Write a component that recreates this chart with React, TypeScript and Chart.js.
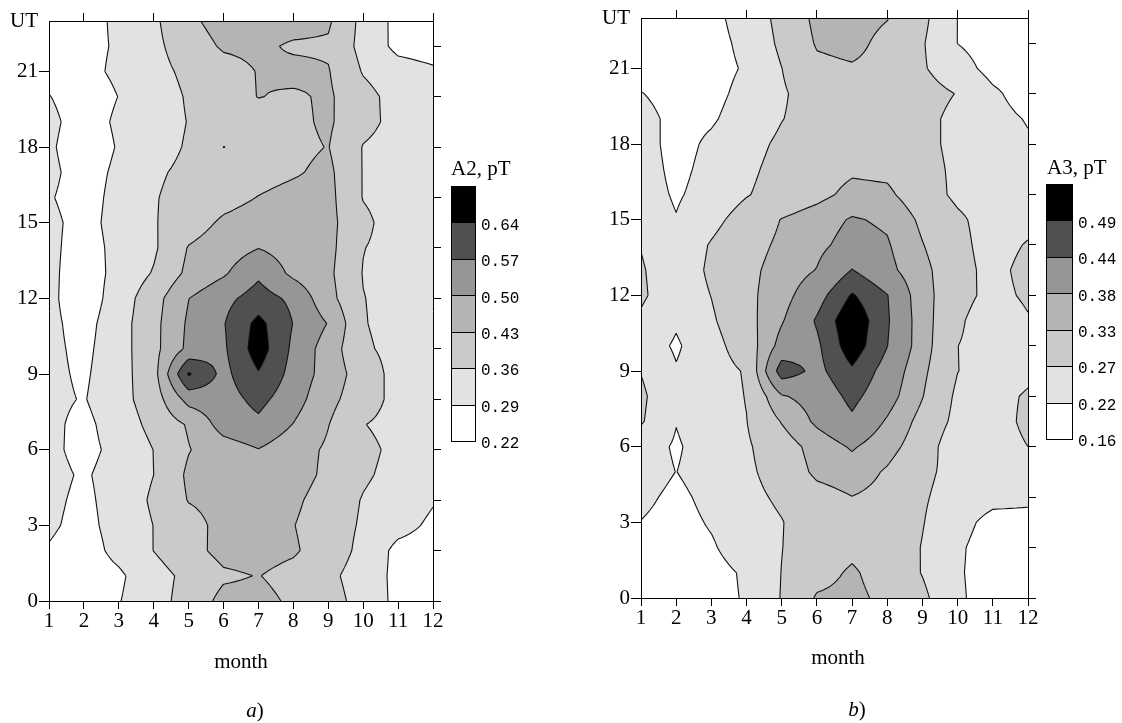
import React, { useEffect, useRef } from "react";
import { Chart, registerables } from "chart.js";

Chart.register(...registerables);

// ---------- data ----------
const months = [1, 2, 3, 4, 5, 6, 7, 8, 9, 10, 11, 12];
const utHours = [0, 1, 2, 3, 4, 5, 6, 7, 8, 9, 10, 11, 12, 13, 14, 15, 16, 17, 18, 19, 20, 21, 22, 23];
const utTicksLabelled = [0, 3, 6, 9, 12, 15, 18, 21];
const utTicksRight = [0, 2, 4, 6, 8, 10, 12, 14, 16, 18, 20, 22];
const monthTicksTop = [2, 4, 6, 8, 10, 12];

const a2Levels = [0.29, 0.36, 0.43, 0.5, 0.57, 0.64];
const a2LegendLabels = ["0.64", "0.57", "0.50", "0.43", "0.36", "0.29", "0.22"];
const a3Levels = [0.22, 0.27, 0.33, 0.38, 0.44, 0.49];
const a3LegendLabels = ["0.49", "0.44", "0.38", "0.33", "0.27", "0.22", "0.16"];
const bandColors = ["#ffffff", "#e2e2e2", "#cacaca", "#b4b4b4", "#969696", "#505050", "#000000"];

// A2 amplitude (pT), one row per UT hour 0..23, columns = months 1..12
const a2ByHour: number[][] = [
  [0.25, 0.25, 0.287, 0.334, 0.386, 0.45, 0.45, 0.419, 0.383, 0.339, 0.27, 0.26],
  [0.25, 0.255, 0.279, 0.333, 0.378, 0.42, 0.432, 0.407, 0.374, 0.333, 0.27, 0.26],
  [0.285, 0.26, 0.31, 0.361, 0.407, 0.45, 0.455, 0.439, 0.393, 0.344, 0.27, 0.26],
  [0.3, 0.27, 0.316, 0.361, 0.406, 0.45, 0.455, 0.432, 0.392, 0.352, 0.314, 0.277],
  [0.305, 0.275, 0.319, 0.37, 0.433, 0.45, 0.46, 0.443, 0.399, 0.356, 0.33, 0.295],
  [0.31, 0.282, 0.318, 0.36, 0.442, 0.46, 0.47, 0.46, 0.415, 0.369, 0.34, 0.32],
  [0.305, 0.27, 0.31, 0.361, 0.427, 0.466, 0.498, 0.459, 0.42, 0.376, 0.345, 0.33],
  [0.305, 0.272, 0.324, 0.379, 0.437, 0.53, 0.555, 0.498, 0.432, 0.362, 0.34, 0.33],
  [0.305, 0.286, 0.336, 0.394, 0.525, 0.54, 0.59, 0.53, 0.45, 0.39, 0.34, 0.33],
  [0.305, 0.28, 0.333, 0.403, 0.648, 0.55, 0.635, 0.546, 0.469, 0.396, 0.336, 0.33],
  [0.305, 0.274, 0.331, 0.409, 0.517, 0.559, 0.675, 0.555, 0.467, 0.37, 0.34, 0.33],
  [0.305, 0.266, 0.331, 0.409, 0.511, 0.566, 0.66, 0.568, 0.497, 0.364, 0.335, 0.32],
  [0.305, 0.251, 0.323, 0.402, 0.499, 0.55, 0.6, 0.555, 0.453, 0.362, 0.335, 0.32],
  [0.305, 0.255, 0.311, 0.365, 0.446, 0.491, 0.557, 0.484, 0.444, 0.357, 0.335, 0.32],
  [0.305, 0.262, 0.309, 0.35, 0.434, 0.465, 0.499, 0.47, 0.45, 0.362, 0.335, 0.32],
  [0.305, 0.268, 0.313, 0.355, 0.398, 0.441, 0.46, 0.46, 0.45, 0.376, 0.325, 0.32],
  [0.295, 0.264, 0.31, 0.356, 0.382, 0.407, 0.432, 0.45, 0.45, 0.357, 0.33, 0.32],
  [0.305, 0.262, 0.303, 0.351, 0.373, 0.39, 0.407, 0.423, 0.445, 0.357, 0.335, 0.32],
  [0.3, 0.252, 0.295, 0.336, 0.366, 0.431, 0.41, 0.415, 0.432, 0.357, 0.335, 0.32],
  [0.305, 0.262, 0.3, 0.332, 0.362, 0.38, 0.398, 0.416, 0.44, 0.38, 0.34, 0.32],
  [0.292, 0.26, 0.291, 0.329, 0.366, 0.398, 0.432, 0.42, 0.44, 0.382, 0.335, 0.32],
  [0.27, 0.275, 0.3, 0.34, 0.374, 0.402, 0.433, 0.45, 0.434, 0.355, 0.32, 0.3],
  [0.265, 0.275, 0.296, 0.345, 0.393, 0.439, 0.445, 0.42, 0.42, 0.338, 0.271, 0.26],
  [0.25, 0.27, 0.3, 0.348, 0.414, 0.46, 0.46, 0.46, 0.44, 0.339, 0.27, 0.26],
];

// A3 amplitude (pT), one row per UT hour 0..23, columns = months 1..12
const a3ByHour: number[][] = [
  [0.19, 0.195, 0.205, 0.224, 0.2725, 0.336, 0.345, 0.315, 0.28, 0.23, 0.19, 0.19],
  [0.195, 0.198, 0.205, 0.226, 0.271, 0.308, 0.338, 0.302, 0.268, 0.226, 0.195, 0.19],
  [0.2, 0.205, 0.215, 0.244, 0.269, 0.3, 0.316, 0.3, 0.268, 0.228, 0.195, 0.19],
  [0.219, 0.205, 0.224, 0.246, 0.268, 0.3, 0.32, 0.305, 0.272, 0.238, 0.204, 0.205],
  [0.23, 0.21, 0.232, 0.255, 0.279, 0.31, 0.329, 0.315, 0.275, 0.25, 0.235, 0.23],
  [0.24, 0.2195, 0.24, 0.26, 0.293, 0.341, 0.355, 0.324, 0.28, 0.255, 0.24, 0.235],
  [0.24, 0.215, 0.241, 0.263, 0.304, 0.35, 0.386, 0.349, 0.3, 0.233, 0.25, 0.27],
  [0.275, 0.2215, 0.25, 0.269, 0.333, 0.39, 0.43, 0.374, 0.312, 0.254, 0.25, 0.28],
  [0.28, 0.225, 0.245, 0.272, 0.375, 0.402, 0.455, 0.403, 0.332, 0.259, 0.255, 0.275],
  [0.268, 0.2235, 0.248, 0.2745, 0.47, 0.425, 0.4825, 0.418, 0.341, 0.271, 0.245, 0.26],
  [0.245, 0.214, 0.251, 0.298, 0.4, 0.43, 0.52, 0.441, 0.353, 0.2705, 0.245, 0.255],
  [0.262, 0.226, 0.263, 0.31, 0.3755, 0.446, 0.53, 0.446, 0.352, 0.281, 0.23, 0.265],
  [0.278, 0.238, 0.271, 0.316, 0.36, 0.418, 0.495, 0.442, 0.348, 0.294, 0.25, 0.28],
  [0.275, 0.238, 0.279, 0.316, 0.35, 0.382, 0.442, 0.395, 0.344, 0.293, 0.25, 0.29],
  [0.268, 0.235, 0.274, 0.3085, 0.34, 0.367, 0.4, 0.385, 0.332, 0.288, 0.244, 0.275],
  [0.245, 0.222, 0.255, 0.293, 0.332, 0.356, 0.385, 0.372, 0.319, 0.28, 0.245, 0.25],
  [0.24, 0.215, 0.237, 0.267, 0.291, 0.314, 0.345, 0.34, 0.298, 0.258, 0.245, 0.24],
  [0.24, 0.209, 0.233, 0.26, 0.286, 0.305, 0.322, 0.318, 0.29, 0.259, 0.245, 0.235],
  [0.238, 0.205, 0.228, 0.253, 0.279, 0.3, 0.31, 0.31, 0.285, 0.256, 0.24, 0.225],
  [0.238, 0.205, 0.215, 0.24, 0.2686, 0.29, 0.305, 0.305, 0.285, 0.256, 0.235, 0.217],
  [0.222, 0.2, 0.208, 0.2325, 0.264, 0.295, 0.31, 0.305, 0.29, 0.268, 0.228, 0.2],
  [0.2, 0.2, 0.205, 0.2245, 0.2695, 0.318, 0.325, 0.315, 0.275, 0.239, 0.205, 0.2],
  [0.2, 0.2, 0.205, 0.231, 0.28, 0.335, 0.345, 0.3145, 0.274, 0.2195, 0.2, 0.2],
  [0.2, 0.2, 0.208, 0.2385, 0.285, 0.3435, 0.35, 0.332, 0.282, 0.2195, 0.2, 0.2],
];

// ---------- layout / style ----------
const CANVAS_W = 561;
const CANVAS_H = 723;
const SERIF = "'Liberation Serif', 'Times New Roman', serif";
const MONO = "'Liberation Mono', 'Courier New', monospace";

type Panel = {
  grid: number[][];
  levels: number[];
  legendLabels: string[];
  title: string;
  caption: string;
  canvasLeft: number;
  area: { left: number; top: number; right: number; bottom: number };
  bar: { x: number; y: number; w: number; h: number };
  labelX: number;
  titleX: number;
  titleY: number;
  monthPos: { x: number; y: number };
  captionPos: { x: number; y: number };
};

const panelA: Panel = {
  grid: a2ByHour,
  levels: a2Levels,
  legendLabels: a2LegendLabels,
  title: "A2, pT",
  caption: "a",
  canvasLeft: 0,
  area: { left: 49, top: 21, right: 433, bottom: 601 },
  bar: { x: 451, y: 186, w: 24, h: 255 },
  labelX: 481,
  titleX: 451,
  titleY: 175,
  monthPos: { x: 241, y: 662 },
  captionPos: { x: 255, y: 711 },
};

const panelB: Panel = {
  grid: a3ByHour,
  levels: a3Levels,
  legendLabels: a3LegendLabels,
  title: "A3, pT",
  caption: "b",
  canvasLeft: 561,
  area: { left: 80, top: 18, right: 467, bottom: 598 },
  bar: { x: 485, y: 184, w: 26, h: 255 },
  labelX: 517,
  titleX: 486,
  titleY: 174,
  monthPos: { x: 277, y: 658 },
  captionPos: { x: 296, y: 710 },
};

function hexToRgb(h: string): [number, number, number] {
  const n = parseInt(h.slice(1), 16);
  return [(n >> 16) & 255, (n >> 8) & 255, n & 255];
}

function sampleGrid(grid: number[][], m: number, u: number): number {
  const nx = grid[0].length;
  const ny = grid.length;
  const fx = m - months[0];
  const fy = u - utHours[0];
  let i = Math.floor(fx);
  let j = Math.floor(fy);
  if (i < 0) i = 0;
  if (i > nx - 2) i = nx - 2;
  if (j < 0) j = 0;
  if (j > ny - 2) j = ny - 2;
  const tx = Math.min(1, Math.max(0, fx - i));
  const ty = Math.min(1, Math.max(0, fy - j));
  const v00 = grid[j][i];
  const v10 = grid[j][i + 1];
  const v01 = grid[j + 1][i];
  const v11 = grid[j + 1][i + 1];
  return (1 - tx) * (1 - ty) * v00 + tx * (1 - ty) * v10 + (1 - tx) * ty * v01 + tx * ty * v11;
}

function makeContourPlugin(panel: Panel) {
  return {
    id: "contourField",
    beforeDraw(chart: any) {
      const ctx: CanvasRenderingContext2D = chart.ctx;
      const area = chart.chartArea;
      const xs = chart.scales.x;
      const ys = chart.scales.y;
      const { grid, levels } = panel;
      const L0 = Math.round(area.left);
      const T0 = Math.round(area.top);
      const R0 = Math.round(area.right);
      const B0 = Math.round(area.bottom);
      const w = R0 - L0;
      const h = B0 - T0;
      const rgb = bandColors.map(hexToRgb);
      const img = ctx.createImageData(w, h);
      const mcol = new Float64Array(w);
      for (let px = 0; px < w; px++) mcol[px] = xs.getValueForPixel(L0 + px + 0.5);
      for (let py = 0; py < h; py++) {
        const u = ys.getValueForPixel(T0 + py + 0.5);
        for (let px = 0; px < w; px++) {
          const v = sampleGrid(grid, mcol[px], u);
          let band = 0;
          for (let k = 0; k < levels.length; k++) if (v >= levels[k]) band = k + 1;
          const c = rgb[band];
          const o = (py * w + px) * 4;
          img.data[o] = c[0];
          img.data[o + 1] = c[1];
          img.data[o + 2] = c[2];
          img.data[o + 3] = 255;
        }
      }
      ctx.putImageData(img, L0, T0);

      // contour lines: marching squares on a refined bilinear grid
      const SUB = 6;
      const nx = grid[0].length;
      const ny = grid.length;
      const nxs = (nx - 1) * SUB + 1;
      const nys = (ny - 1) * SUB + 1;
      const PX = new Float64Array(nxs);
      const PY = new Float64Array(nys);
      const V = new Float64Array(nxs * nys);
      for (let i = 0; i < nxs; i++) PX[i] = xs.getPixelForValue(months[0] + i / SUB);
      for (let j = 0; j < nys; j++) PY[j] = ys.getPixelForValue(utHours[0] + j / SUB);
      for (let j = 0; j < nys; j++)
        for (let i = 0; i < nxs; i++)
          V[j * nxs + i] = sampleGrid(grid, months[0] + i / SUB, utHours[0] + j / SUB);

      ctx.save();
      ctx.beginPath();
      ctx.rect(area.left, area.top, area.right - area.left, area.bottom - area.top);
      ctx.clip();
      ctx.strokeStyle = "#111";
      ctx.lineWidth = 1.1;
      ctx.lineJoin = "round";
      for (const lev of levels) {
        ctx.beginPath();
        for (let j = 0; j < nys - 1; j++) {
          for (let i = 0; i < nxs - 1; i++) {
            const a = V[j * nxs + i];
            const b = V[j * nxs + i + 1];
            const c = V[(j + 1) * nxs + i + 1];
            const d = V[(j + 1) * nxs + i];
            const sa = a >= lev, sb = b >= lev, sc = c >= lev, sd = d >= lev;
            if (sa === sb && sb === sc && sc === sd) continue;
            const pts: ([number, number] | null)[] = [null, null, null, null];
            if (sa !== sb) {
              const t = (lev - a) / (b - a);
              pts[0] = [PX[i] + (PX[i + 1] - PX[i]) * t, PY[j]];
            }
            if (sb !== sc) {
              const t = (lev - b) / (c - b);
              pts[1] = [PX[i + 1], PY[j] + (PY[j + 1] - PY[j]) * t];
            }
            if (sd !== sc) {
              const t = (lev - d) / (c - d);
              pts[2] = [PX[i] + (PX[i + 1] - PX[i]) * t, PY[j + 1]];
            }
            if (sa !== sd) {
              const t = (lev - a) / (d - a);
              pts[3] = [PX[i], PY[j] + (PY[j + 1] - PY[j]) * t];
            }
            const segs: [number, number][] = [];
            const present = [0, 1, 2, 3].filter((k) => pts[k]);
            if (present.length === 2) segs.push([present[0], present[1]]);
            else if (present.length === 4) {
              const center = (a + b + c + d) / 4;
              if ((center >= lev) === sa) {
                segs.push([0, 1], [2, 3]);
              } else {
                segs.push([3, 0], [1, 2]);
              }
            }
            for (const [p, q] of segs) {
              const P = pts[p]!;
              const Q = pts[q]!;
              ctx.moveTo(P[0], P[1]);
              ctx.lineTo(Q[0], Q[1]);
            }
          }
        }
        ctx.stroke();
      }
      ctx.restore();
    },
  };
}

function makeDecorPlugin(panel: Panel) {
  return {
    id: "decor",
    afterDraw(chart: any) {
      const ctx: CanvasRenderingContext2D = chart.ctx;
      const { bar } = panel;
      const cellH = bar.h / 7;
      ctx.save();
      // colour bar
      for (let k = 0; k < 7; k++) {
        const y0 = Math.round(bar.y + k * cellH);
        const y1 = Math.round(bar.y + (k + 1) * cellH);
        ctx.fillStyle = bandColors[6 - k];
        ctx.fillRect(bar.x, y0, bar.w, y1 - y0);
        ctx.strokeStyle = "#000";
        ctx.lineWidth = 1;
        ctx.strokeRect(bar.x + 0.5, y0 + 0.5, bar.w, y1 - y0);
      }
      ctx.fillStyle = "#000";
      ctx.font = `16px ${MONO}`;
      ctx.textAlign = "left";
      ctx.textBaseline = "middle";
      panel.legendLabels.forEach((lab, k) => {
        const y = bar.y + (k + 1) * cellH + 3;
        ctx.fillText(lab, panel.labelX, y);
      });
      // title
      ctx.font = `21px ${SERIF}`;
      ctx.textBaseline = "alphabetic";
      ctx.fillText(panel.title, panel.titleX, panel.titleY);
      // axis title
      ctx.textAlign = "center";
      ctx.textBaseline = "middle";
      ctx.fillText("month", panel.monthPos.x, panel.monthPos.y);
      // caption a) / b)
      ctx.font = `italic 21px ${SERIF}`;
      const capW = ctx.measureText(panel.caption).width;
      ctx.font = `21px ${SERIF}`;
      const parW = ctx.measureText(")").width;
      const startX = panel.captionPos.x - (capW + parW) / 2;
      ctx.textAlign = "left";
      ctx.font = `italic 21px ${SERIF}`;
      ctx.fillText(panel.caption, startX, panel.captionPos.y);
      ctx.font = `21px ${SERIF}`;
      ctx.fillText(")", startX + capW, panel.captionPos.y);
      ctx.restore();
    },
  };
}

function buildConfig(panel: Panel): any {
  const { area } = panel;
  const tickFont = { family: SERIF, size: 21 };
  const axisBorder = { display: true, color: "#000", width: 1 };
  return {
    type: "scatter",
    data: { datasets: [{ data: [] as { x: number; y: number }[], pointRadius: 0 }] },
    options: {
      animation: false,
      responsive: false,
      maintainAspectRatio: false,
      devicePixelRatio: 1,
      events: [],
      layout: { padding: 0 },
      plugins: { legend: { display: false }, tooltip: { enabled: false } },
      scales: {
        x: {
          type: "linear",
          position: "bottom",
          min: months[0],
          max: months[months.length - 1],
          afterBuildTicks: (s: any) => {
            s.ticks = months.map((v) => ({ value: v }));
          },
          afterFit: (s: any) => {
            s.height = CANVAS_H - area.bottom;
          },
          ticks: {
            color: "#000",
            font: tickFont,
            padding: 0,
            maxRotation: 0,
            autoSkip: false,
            callback: (v: number) => String(v),
          },
          grid: { drawOnChartArea: false, drawTicks: true, tickLength: 8, tickColor: "#000" },
          border: axisBorder,
        },
        x2: {
          type: "linear",
          position: "top",
          min: months[0],
          max: months[months.length - 1],
          afterBuildTicks: (s: any) => {
            s.ticks = monthTicksTop.map((v) => ({ value: v }));
          },
          afterFit: (s: any) => {
            s.height = area.top;
          },
          ticks: { display: false },
          grid: { drawOnChartArea: false, drawTicks: true, tickLength: 8, tickColor: "#000" },
          border: axisBorder,
        },
        y: {
          type: "linear",
          position: "left",
          min: utHours[0],
          max: utHours[utHours.length - 1],
          afterBuildTicks: (s: any) => {
            s.ticks = [...utTicksLabelled, utHours[utHours.length - 1]].map((v) => ({ value: v }));
          },
          afterFit: (s: any) => {
            s.width = area.left;
          },
          ticks: {
            color: "#000",
            font: tickFont,
            padding: 1,
            autoSkip: false,
            callback: (v: number) => (v === utHours[utHours.length - 1] ? "UT" : String(v)),
          },
          grid: {
            drawOnChartArea: false,
            drawTicks: true,
            tickLength: 10,
            tickColor: (c: any) =>
              c.tick && c.tick.value === utHours[utHours.length - 1] ? "rgba(0,0,0,0)" : "#000",
          },
          border: axisBorder,
        },
        y2: {
          type: "linear",
          position: "right",
          min: utHours[0],
          max: utHours[utHours.length - 1],
          afterBuildTicks: (s: any) => {
            s.ticks = utTicksRight.map((v) => ({ value: v }));
          },
          afterFit: (s: any) => {
            s.width = CANVAS_W - area.right;
          },
          ticks: { display: false },
          grid: { drawOnChartArea: false, drawTicks: true, tickLength: 8, tickColor: "#000" },
          border: axisBorder,
        },
      },
    },
    plugins: [makeContourPlugin(panel), makeDecorPlugin(panel)],
  };
}

function ContourPanel({ panel }: { panel: Panel }) {
  const ref = useRef<HTMLCanvasElement>(null);
  useEffect(() => {
    if (!ref.current) return;
    const chart = new Chart(ref.current, buildConfig(panel));
    return () => chart.destroy();
  }, [panel]);
  return (
    <canvas
      ref={ref}
      width={CANVAS_W}
      height={CANVAS_H}
      style={{ position: "absolute", left: panel.canvasLeft, top: 0, width: CANVAS_W, height: CANVAS_H }}
    />
  );
}

export default function App() {
  return (
    <div style={{ position: "fixed", left: 0, top: 0, width: 1122, height: 723, background: "#fff" }}>
      <ContourPanel panel={panelA} />
      <ContourPanel panel={panelB} />
    </div>
  );
}
